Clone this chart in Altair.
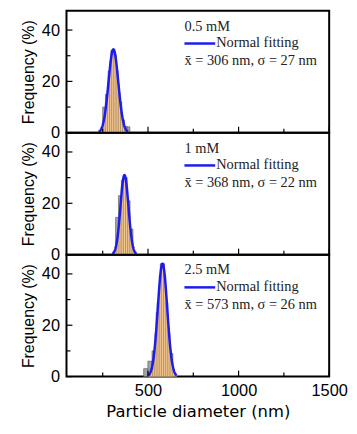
import altair as alt
import numpy as np
import pandas as pd

# ---- data ----
x_domain = [50, 1500]
y_domain = [0, 47.5]
x_major = [500, 1000, 1500]
x_minor = [250, 750, 1250]
y_major = [0, 20, 40]
y_minor = [10, 30]

conc_labels = ["0.5 mM", "1 mM", "2.5 mM"]
fit_labels = ["x\u0304 = 306 nm, \u03c3 = 27 nm",
              "x\u0304 = 368 nm, \u03c3 = 22 nm",
              "x\u0304 = 573 nm, \u03c3 = 26 nm"]
legend_label = "Normal fitting"

# fitted normal curves (position of the drawn peak, sigma, peak height in %)
fit_center = [309, 370, 580]
fit_sigma = [27, 22, 26]
fit_peak = [32.5, 31, 44]

# histograms (bin left edges, bin width, frequency %)
hist_edges = [
    [250, 265, 280, 295, 310, 325, 340, 355, 370, 385],
    [321, 337, 353, 369, 385, 401],
    [476, 499, 522, 545, 568, 591, 614],
]
hist_width = [15, 16, 23]
hist_freq = [
    [10, 15, 24, 32, 30, 19, 12, 5, 2.5, 2.3],
    [14.5, 23, 29, 30, 21, 10],
    [3.1, 6, 10, 25, 44, 18.5, 9],
]

W, H = 265, 123
BLUE = "#1c1cf0"
ORANGE = "#F2C690"

xs = alt.Scale(domain=x_domain, nice=False, zero=False)
ys = alt.Scale(domain=y_domain, nice=False)


def panel(i, bottom):
    dh = pd.DataFrame({"x0": hist_edges[i],
                       "x1": [e + hist_width[i] for e in hist_edges[i]],
                       "f": hist_freq[i]})
    mu, sd, pk = fit_center[i], fit_sigma[i], fit_peak[i]
    xc = np.linspace(mu - 3 * sd, mu + 3 * sd, 121)
    dc = pd.DataFrame({"x": xc, "y": pk * np.exp(-0.5 * ((xc - mu) / sd) ** 2)})
    step = 12
    sc = np.arange(mu - 3 * sd + step / 2, mu + 3 * sd, step)
    ds = pd.DataFrame({"x0": sc - step / 2, "x1": sc + step / 2,
                       "f": pk * np.exp(-0.5 * ((sc - mu) / sd) ** 2)})

    if bottom:
        xaxis = alt.Axis(values=x_major, format="d", title="Particle diameter (nm)", ticks=False,
                         domain=False, grid=False, labelFont="Liberation Sans",
                         labelFontSize=16.5, labelColor="black", labelPadding=6,
                         labelFlush=False, labelBound=False, titleFont="DejaVu Sans",
                         titleFontSize=16.5, titleFontWeight="normal", titleColor="black",
                         titlePadding=5)
    else:
        xaxis = None
    yaxis = alt.Axis(values=y_major, title="Frequency (%)", ticks=False, domain=False,
                     grid=False, labelFont="Liberation Sans", labelFontSize=16.5,
                     labelColor="black", labelPadding=7, titleFont="Liberation Sans",
                     titleFontSize=16, titleFontWeight="normal", titleColor="black",
                     titlePadding=5)

    X = lambda f: alt.X(f, scale=xs, axis=xaxis)
    Y = lambda f: alt.Y(f, scale=ys, axis=yaxis)

    bars = alt.Chart(dh).mark_rect(fill="#a3a3a3", stroke="#555555", strokeWidth=0.6).encode(
        x=X("x0:Q"), x2="x1:Q", y=Y("f:Q"), y2=alt.datum(0))
    fill = alt.Chart(ds).mark_rect(fill=ORANGE, stroke="#9c7b52", strokeWidth=0.5).encode(
        x=X("x0:Q"), x2="x1:Q", y=Y("f:Q"), y2=alt.datum(0))
    curve = alt.Chart(dc).mark_line(color=BLUE, strokeWidth=2.5).encode(
        x=X("x:Q"), y=Y("y:Q"))

    xt_major = alt.Chart(pd.DataFrame({"t": x_major})).mark_rule(color="black", strokeWidth=1.2).encode(
        x=X("t:Q"), y=alt.value(H), y2=alt.value(H - 6))
    xt_minor = alt.Chart(pd.DataFrame({"t": x_minor})).mark_rule(color="black", strokeWidth=1.2).encode(
        x=X("t:Q"), y=alt.value(H), y2=alt.value(H - 4))
    yt_major = alt.Chart(pd.DataFrame({"t": y_major})).mark_rule(color="black", strokeWidth=1.2).encode(
        y=Y("t:Q"), x=alt.value(0), x2=alt.value(6))
    yt_minor = alt.Chart(pd.DataFrame({"t": y_minor})).mark_rule(color="black", strokeWidth=1.2).encode(
        y=Y("t:Q"), x=alt.value(0), x2=alt.value(4))

    dt = pd.DataFrame({"t": [conc_labels[i], legend_label, fit_labels[i]],
                       "px": [119, 151, 119], "py": [16, 33, 51]})
    texts = alt.Chart(dt).mark_text(font="Liberation Serif", fontSize=14.5, align="left",
                                    baseline="middle", color="#222222").encode(
        x=alt.X("px:Q", scale=None), y=alt.Y("py:Q", scale=None), text="t:N")
    leg = alt.Chart(pd.DataFrame({"t": [legend_label]})).mark_rule(color=BLUE, strokeWidth=2.5).encode(
        x=alt.value(119), x2=alt.value(150), y=alt.value(33))

    return alt.layer(bars, fill, curve, xt_major, xt_minor, yt_major, yt_minor, leg, texts).properties(
        width=W, height=H)


chart = alt.vconcat(panel(0, False), panel(1, False), panel(2, True),
                    spacing=0, bounds="flush").properties(
    padding={"left": 11, "top": 0, "right": 0, "bottom": 0}
).configure_view(stroke="black", strokeWidth=2)

chart.save("out.html", embed_options={"renderer": "svg", "actions": False})
